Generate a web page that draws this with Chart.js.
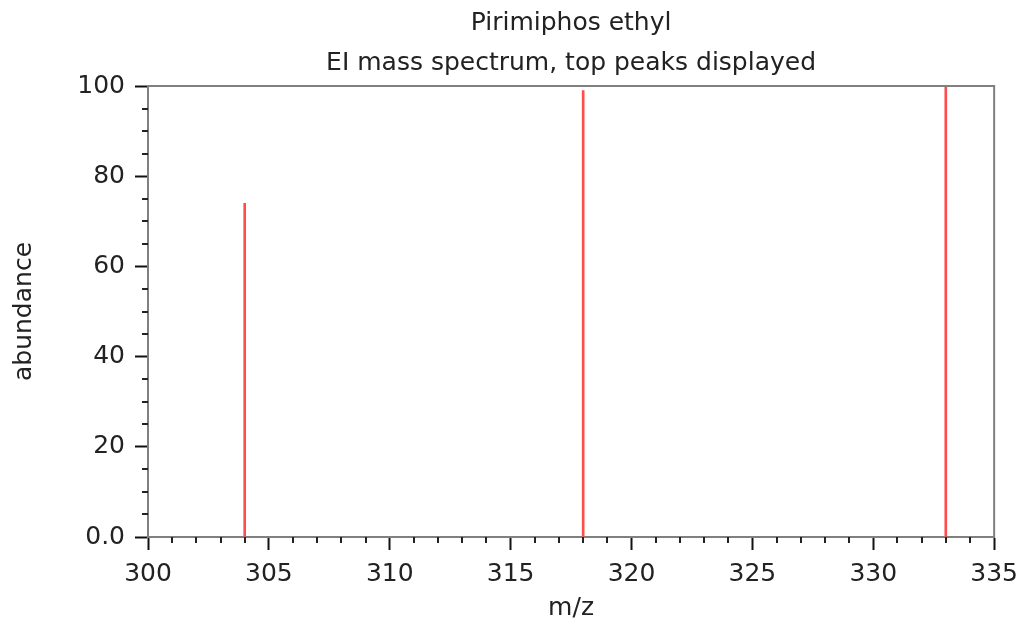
<!DOCTYPE html>
<html><head><meta charset="utf-8">
<script src="https://cdn.jsdelivr.net/npm/chart.js@4/dist/chart.umd.min.js"></script>
<style>html,body{margin:0;padding:0;background:#fff}</style>
</head><body>
<canvas id="c" width="1027" height="626"></canvas>
<script>
const titleLines = ['Pirimiphos ethyl', 'EI mass spectrum, top peaks displayed'];
const mz = [304, 318, 333];
const abundance = [74, 99, 100];
const xRange = [300, 335];
const yRange = [0, 100];
const xMajorStep = 5, xMinorStep = 1;
const yMajorStep = 20, yMinorStep = 5;
const xLabel = 'm/z';
const yLabel = 'abundance';

const FONT = 'DejaVu Sans';
const TXT = '#222';
const AXIS = '#808080';

const minorTicks = {
  id: 'minorTicks',
  afterDraw(chart) {
    const {ctx, chartArea: a, scales: {x, y}} = chart;
    ctx.save();
    ctx.strokeStyle = AXIS; ctx.lineWidth = 2;
    ctx.beginPath();
    ctx.moveTo(a.left, a.top); ctx.lineTo(a.right, a.top); ctx.lineTo(a.right, a.bottom + 1);
    ctx.stroke();
    ctx.strokeStyle = '#222'; ctx.lineWidth = 2;
    ctx.beginPath();
    for (let v = xRange[0]; v <= xRange[1]; v += xMinorStep) {
      if (v % xMajorStep === 0) continue;
      const px = Math.round(x.getPixelForValue(v));
      ctx.moveTo(px, a.bottom); ctx.lineTo(px, a.bottom + 6);
    }
    for (let v = yRange[0]; v <= yRange[1]; v += yMinorStep) {
      if (v % yMajorStep === 0) continue;
      const py = Math.round(y.getPixelForValue(v));
      ctx.moveTo(a.left - 6, py); ctx.lineTo(a.left, py);
    }
    ctx.stroke();
    ctx.restore();
  }
};

new Chart(document.getElementById('c'), {
  type: 'bar',
  data: {
    datasets: [{
      data: mz.map((m, i) => ({x: m, y: abundance[i]})),
      backgroundColor: '#ff4d4d',
      borderWidth: 0,
      barThickness: 2,
      grouped: false
    }]
  },
  options: {
    responsive: false,
    animation: false,
    devicePixelRatio: 1,
    events: [],
    layout: {padding: {left: 0, right: 32, top: 0, bottom: 0}},
    plugins: {
      legend: {display: false},
      tooltip: {enabled: false},
      title: {
        display: true,
        text: titleLines,
        fullSize: false,
        color: TXT,
        font: {family: FONT, size: 25, weight: 'normal', lineHeight: 1.6},
        padding: {top: 3, bottom: 3}
      }
    },
    scales: {
      x: {
        type: 'linear',
        min: xRange[0], max: xRange[1],
        offset: false,
        afterFit(s) { s.height = 89; },
        ticks: {stepSize: xMajorStep, color: TXT, padding: 9, maxRotation: 0,
          font: {family: FONT, size: 25}},
        grid: {offset: false, drawOnChartArea: false, drawTicks: true, tickLength: 13, tickColor: '#111', tickWidth: 2},
        border: {display: true, color: AXIS, width: 2},
        title: {display: true, text: xLabel, color: TXT, font: {family: FONT, size: 25},
          padding: {top: 0, bottom: 3}}
      },
      y: {
        min: yRange[0], max: yRange[1],
        afterFit(s) { s.width = 148; },
        ticks: {stepSize: yMajorStep, color: TXT, padding: 10,
          font: {family: FONT, size: 25},
          callback: v => v === 0 ? '0.0' : String(v)},
        grid: {offset: false, drawOnChartArea: false, drawTicks: true, tickLength: 13, tickColor: '#111', tickWidth: 2},
        border: {display: true, color: AXIS, width: 2},
        title: {display: true, text: yLabel, color: TXT, font: {family: FONT, size: 25},
          padding: {top: 9, bottom: 0}}
      }
    }
  },
  plugins: [minorTicks]
});
</script>
</body></html>
